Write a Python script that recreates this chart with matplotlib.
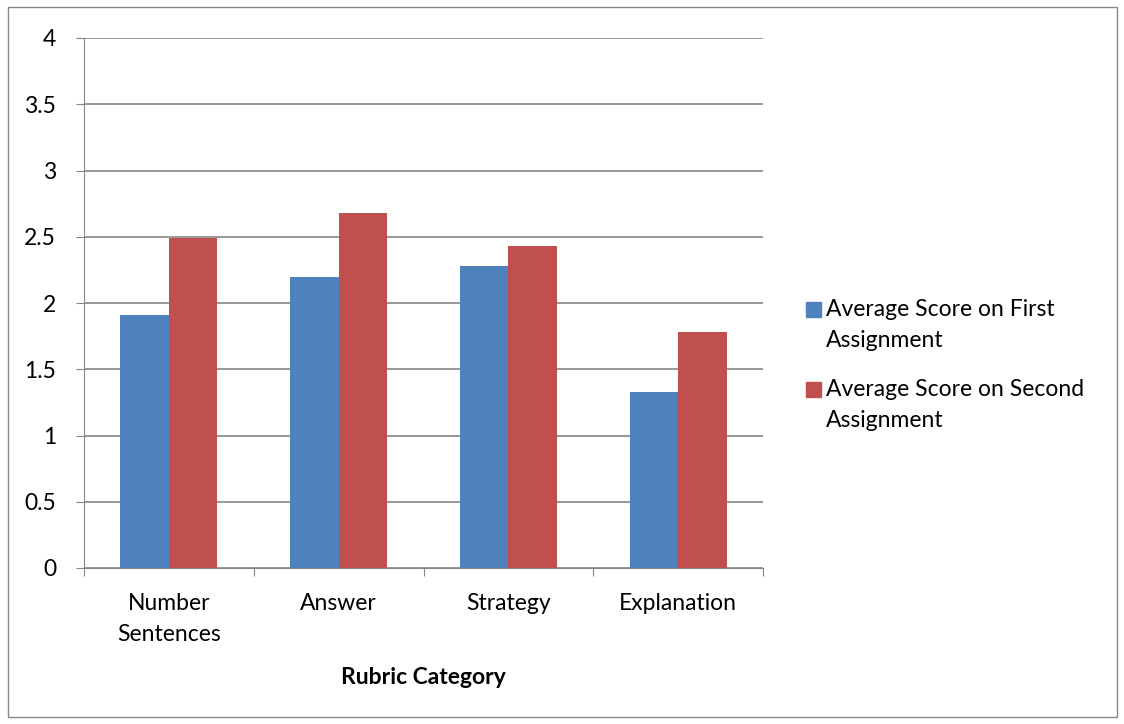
import matplotlib
matplotlib.use('Agg')
import matplotlib.pyplot as plt
import matplotlib.patches as patches
import numpy as np

categories = ['Number\nSentences', 'Answer', 'Strategy', 'Explanation']
first_scores = [1.91, 2.20, 2.28, 1.33]
second_scores = [2.49, 2.68, 2.43, 1.78]
series_names = ['Average Score on First\nAssignment', 'Average Score on Second\nAssignment']
series_colors = ['#4f81bd', '#c0504d']
yticks = [0, 0.5, 1, 1.5, 2, 2.5, 3, 3.5, 4]
ytick_labels = ['0', '0.5', '1', '1.5', '2', '2.5', '3', '3.5', '4']

plt.rcParams['font.family'] = ['Lato', 'DejaVu Sans']
FS = 16.5

W, H = 1124, 724
fig = plt.figure(figsize=(W / 100, H / 100), dpi=100)

# outer chart border
fig.patches.append(patches.Rectangle((8 / W, 7 / H), (1117 - 8) / W, (717 - 7) / H,
                                     transform=fig.transFigure, fill=False,
                                     edgecolor='#888888', linewidth=1))

ax = fig.add_axes([84 / W, 1 - 568 / H, (763 - 84) / W, (568 - 38) / H])

x = np.arange(len(categories))
bw = 0.285
ax.bar(x - bw / 2, first_scores, bw, color=series_colors[0], zorder=3)
ax.bar(x + bw / 2, second_scores, bw, color=series_colors[1], zorder=3)

ax.set_xlim(-0.5, len(categories) - 0.5)
ax.set_ylim(0, 4)
ax.set_yticks(yticks)
ax.set_yticklabels(ytick_labels, fontsize=FS)
ax.yaxis.grid(True, color='#868686', linewidth=1.2, zorder=0)

ax.set_xticks(np.arange(len(categories) + 1) - 0.5)
ax.set_xticklabels([])
ax.set_xticks(x, minor=True)
ax.set_xticklabels(categories, minor=True, fontsize=FS, linespacing=1.6)
ax.tick_params(axis='x', which='minor', length=0, pad=18)
ax.tick_params(axis='x', which='major', length=6, direction='out', color='#868686')
ax.tick_params(axis='y', length=6, direction='out', color='#868686', pad=14)

for s in ['top', 'right']:
    ax.spines[s].set_visible(False)
ax.spines['left'].set_color('#868686')
ax.spines['bottom'].set_color('#868686')

ax.set_xlabel('Rubric Category', fontsize=FS, fontweight='bold', labelpad=16)

# legend: square aligned with first line of each wrapped label
for i, (name, col) in enumerate(zip(series_names, series_colors)):
    ytop = 302 + i * 80
    fig.patches.append(patches.Rectangle((806 / W, 1 - (ytop + 15) / H), 15 / W, 15 / H,
                                         transform=fig.transFigure, color=col))
    fig.text(826 / W, 1 - (ytop + 23) / H, name, fontsize=FS, va='center', ha='left',
             linespacing=1.6)

fig.savefig('out.png', dpi=100)
